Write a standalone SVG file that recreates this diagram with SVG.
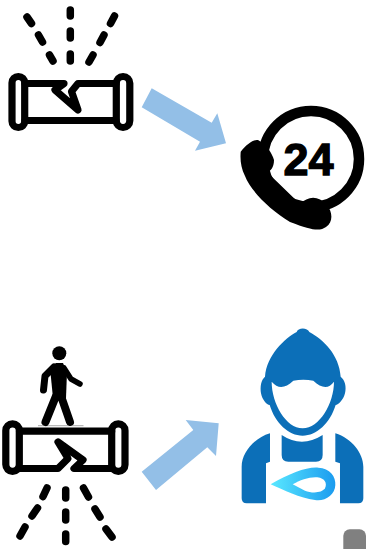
<svg xmlns="http://www.w3.org/2000/svg" width="372" height="549" viewBox="0 0 372 549">
<style>
.k{fill:none;stroke:#000;stroke-linecap:round;stroke-linejoin:round}
.p{stroke-width:7.200}
.d{stroke-width:7.500}
.a{fill:#93bfe7}
.w{fill:#0c6fb8}
</style>
<defs>
<linearGradient id="fl" x1="0" y1="0" x2="1" y2="0"><stop offset="0" stop-color="#5ae8ff"/><stop offset="1" stop-color="#1b9bef"/></linearGradient>
</defs>
<rect width="372" height="549" fill="#fff"/>
<g id="burst-pipe-top">
<path class="k d" d="M70.300 10V16M70.300 31V38M70.300 54V61M27 17L31.500 23.500M38.500 35L42.500 42M49.500 55L53 61M114.500 16L110.500 23.500M104 35L100 42.500M93 55L89 62"/>
<rect class="k p" x="12" y="76.500" width="12.700" height="51" rx="6.300"/>
<rect class="k p" x="116.300" y="76.500" width="13.500" height="51" rx="6.700"/>
<path class="k p" d="M25 83.500H64L55 90L78 110L71.500 91.500L78 83.500H116M25 120.500H116"/>
</g>
<g id="hotline-24">
<circle cx="311" cy="159" r="48" fill="none" stroke="#000" stroke-width="10.500"/>
<path d="M240.700 151.700C246 145 253 139 258 140C267 145 272 153 274 160C274 168 270 172 266.700 171.700L300 204C308 196 318 195 327 205C333 213 333 222 326 227C320 231 313 231 290 222C270 210 250 190 245 176C241 168 240 160 240.700 151.700Z"/>
<text x="308.500" y="175" font-family="'Liberation Sans',Arial,sans-serif" font-size="45" font-weight="700" text-anchor="middle" fill="#000" stroke="#000" stroke-width="1.300">24</text>
</g>
<g id="leak-pipe-bottom">
<circle cx="59.300" cy="353.300" r="7"/>
<path d="M38 425.700H83.500" stroke="#aaa" stroke-width="1" fill="none"/>
<path d="M50 368L56 363H63L67 372L66 398H53Z"/>
<path class="k" stroke-width="7" d="M54 367L45 376L43.500 390"/>
<path class="k" stroke-width="5.500" d="M64 368L71 379L80 384"/>
<path class="k" stroke-width="8" d="M56 396L45.500 422M61 396L70 422"/>
<path class="k d" d="M47 488L43 496.500M37.500 508L32 516M25 527L20 536M65.700 490V498M65.700 512V520M65.700 534V541.500M83.500 488L88.500 497M95 509L100 517M106 529L112 537"/>
<rect class="k p" x="5.800" y="423.800" width="13.500" height="47.500" rx="6.700"/>
<rect class="k p" x="111.700" y="423.800" width="13.300" height="47.500" rx="6.600"/>
<path class="k p" d="M19.500 431.200H111.700M19.500 468.500H58L68 458.500L58 442L83 460L74 468.500H111.700"/>
</g>
<g id="plumber">
<g transform="translate(230 320) scale(.3333)">
<path class="w" d="M105 170C110 105 165 55 200 36C203 22 233 22 238 36C280 58 328 105 332 170C345 180 350 200 345 220C340 240 325 255 317 255C300 310 260 347 218 347C176 347 136 310 119 255C110 255 97 240 93 220C90 200 93 180 105 170Z"/>
<path fill="#fff" d="M125 185C145 208 165 205 190 182C210 178 230 178 250 182C275 205 295 208 312 185C312 250 268 325 218 325C168 325 125 250 125 185Z"/>
<path class="w" d="M120 340C70 355 35 400 35 440V535Q35 550 50 550H108V430L120 425ZM316 340C365 355 400 400 400 440V535Q400 550 385 550H330V430L316 425ZM155 345Q215 385 278 345V405Q278 425 258 425H175Q155 425 155 405Z"/>
<path fill="url(#fl)" d="M122 493C180 460 230 440 265 443C300 445 318 470 316 495C315 525 285 545 255 540C210 535 160 510 122 493Z"/>
<path fill="#fff" d="M188 493C210 480 240 470 262 472C285 475 292 490 285 505C275 520 245 520 225 512Z"/>
</g>
</g>
<g id="connectors">
<path class="a" d="M151.700 88.300L141.700 107.300L200 141.700L195 150.700L226 143.300L217.300 113.300L211.700 122.700Z"/>
<path class="a" d="M141.700 471.700L156 490L207.300 447.300L216 456L218.700 423.300L185.700 420L193.300 430Z"/>
</g>
<rect id="grey-block" x="343.300" y="529.300" width="22.700" height="26" rx="6.500" fill="#808080"/>
</svg>
